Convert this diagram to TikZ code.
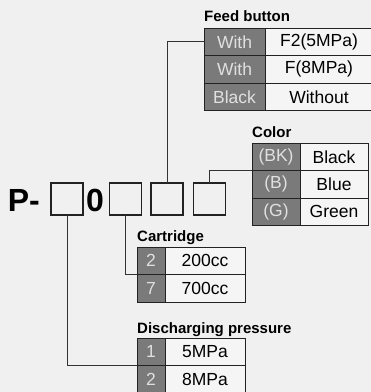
\documentclass[tikz,border=0pt]{standalone}
\usepackage{fontspec}
\setmainfont{Liberation Sans}
\usetikzlibrary{positioning}
\definecolor{PageGray}{HTML}{F0F0F0}
\definecolor{CellWhite}{HTML}{F5F5F5}
\definecolor{KeyGray}{HTML}{7A7A7A}
\definecolor{KeyText}{HTML}{E0E0E0}
\definecolor{EdgeDark}{HTML}{222222}
\definecolor{LinkDark}{HTML}{333333}

\begin{document}
\begin{tikzpicture}[x=1pt,y=-1pt,
      cell/.style={draw=EdgeDark,line width=0.9pt,inner sep=0pt,outer sep=0pt,
                   minimum height=27.5pt,font=\fontsize{17.5}{17.5}\selectfont},
      keycell/.style={cell,fill=KeyGray,text=KeyText},
      valcell/.style={cell,fill=CellWhite,text=black},
      slot/.style={draw=EdgeDark,line width=1.3pt,fill=PageGray,minimum size=32pt,
                   inner sep=0pt,outer sep=0pt},
      caption/.style={anchor=base west,inner sep=0pt,font=\bfseries\fontsize{15}{15}\selectfont},
      bigtext/.style={anchor=base west,inner sep=0pt,font=\bfseries\fontsize{32}{32}\selectfont},
      link/.style={draw=LinkDark,line width=0.9pt},
    ]
    \fill[PageGray] (0,0) rectangle (371,392);
    \useasboundingbox (0,0) rectangle (371,392);
    % Model code
    \node[bigtext] (prefix) at (7.6,211) {P-};
    \node[slot] (slotA) at (67,199) {};
    \node[bigtext] (zero) at (86,211) {0};
    \node[slot] (slotB) at (125.5,199) {};
    \node[slot] (slotC) at (167,199) {};
    \node[slot] (slotD) at (209.5,199) {};
    % Feed button
    \node[caption] (fbcap) at (204,21) {Feed button};
    \node[keycell,minimum width=61pt] (fbk1) at (234.5,41.75) {With};
    \node[valcell,minimum width=108pt,right=0pt of fbk1] (fbv1) {F2(5MPa)};
    \node[keycell,minimum width=61pt,below=0pt of fbk1] (fbk2) {With};
    \node[valcell,minimum width=108pt,right=0pt of fbk2] (fbv2) {F(8MPa)};
    \node[keycell,minimum width=61pt,below=0pt of fbk2] (fbk3) {Black};
    \node[valcell,minimum width=108pt,right=0pt of fbk3] (fbv3) {Without};
    % Color
    \node[caption] (cocap) at (252,137) {Color};
    \node[keycell,minimum width=48pt] (cok1) at (276,156.75) {(BK)};
    \node[valcell,minimum width=68pt,right=0pt of cok1] (cov1) {Black};
    \node[keycell,minimum width=48pt,below=0pt of cok1] (cok2) {(B)};
    \node[valcell,minimum width=68pt,right=0pt of cok2] (cov2) {Blue};
    \node[keycell,minimum width=48pt,below=0pt of cok2] (cok3) {(G)};
    \node[valcell,minimum width=68pt,right=0pt of cok3] (cov3) {Green};
    % Cartridge
    \node[caption] (ctcap) at (137,241) {Cartridge};
    \node[keycell,minimum width=28pt] (ctk1) at (151,260.75) {2};
    \node[valcell,minimum width=80pt,right=0pt of ctk1] (ctv1) {200cc};
    \node[keycell,minimum width=28pt,below=0pt of ctk1] (ctk2) {7};
    \node[valcell,minimum width=80pt,right=0pt of ctk2] (ctv2) {700cc};
    % Discharging pressure
    \node[caption] (dpcap) at (137,333) {Discharging pressure};
    \node[keycell,minimum width=28pt] (dpk1) at (151,351.75) {1};
    \node[valcell,minimum width=80pt,right=0pt of dpk1] (dpv1) {5MPa};
    \node[keycell,minimum width=28pt,below=0pt of dpk1] (dpk2) {2};
    \node[valcell,minimum width=80pt,right=0pt of dpk2] (dpv2) {8MPa};

    \draw[link] (slotA.south) |- (dpk1.south west);
    \draw[link] (slotB.south) |- (ctk1.south west);
    \draw[link] (slotC.north) |- (fbk1.west);
    \draw[link] (slotD.north) |- (cok1.south west);
  \end{tikzpicture}
\end{document}
